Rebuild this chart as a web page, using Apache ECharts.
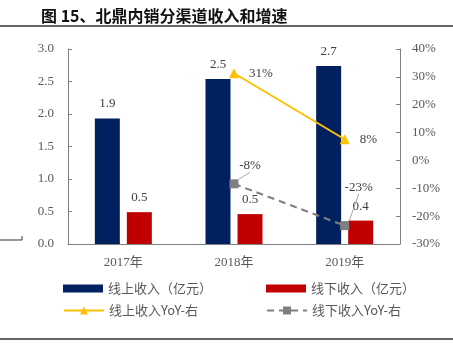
<!DOCTYPE html>
<html>
<head>
<meta charset="utf-8">
<script src="https://cdn.jsdelivr.net/npm/echarts@6/dist/echarts.min.js"></script>
<style>
html, body { margin: 0; padding: 0; background: #fff; }
#main { width: 453px; height: 350px; }
</style>
</head>
<body>
<div id="main"></div>
<script>
var years = ['2017年', '2018年', '2019年']
var onlineRev = [1.93, 2.54, 2.74]
var offlineRev = [0.49, 0.46, 0.36]
var onlineYoy = [null, 31.3, 7.6]
var offlineYoy = [null, -8.4, -23.4]
var leftTicks = [0, 3, 0.5]
var rightTicks = [-30, 40, 10]

var serif = '"Liberation Serif", "Noto Sans CJK SC", serif'
var cjk = '"Noto Sans CJK SC", "Liberation Serif", sans-serif'
var grey = '#595959'

var myChart = echarts.init(document.getElementById('main'))

var option = {
	animation: false,
	title: {
		text: '图 15、北鼎内销分渠道收入和增速',
		left: 36,
		top: 3,
		textStyle: { fontFamily: cjk, fontSize: 16, fontWeight: 'bold', color: '#111' }
	},
	graphic: [
		{ type: 'line', shape: { x1: 0, y1: 26, x2: 453, y2: 26 }, style: { stroke: '#333', lineWidth: 1.5 } },
		{ type: 'line', shape: { x1: 0, y1: 339, x2: 453, y2: 339 }, style: { stroke: '#333', lineWidth: 1.5 } },
		{ type: 'line', shape: { x1: 0, y1: 240, x2: 22, y2: 240 }, style: { stroke: '#333', lineWidth: 1 } },
		{ type: 'line', shape: { x1: 22, y1: 236, x2: 22, y2: 240 }, style: { stroke: '#333', lineWidth: 1 } }
	],
	grid: { left: 68, right: 53, top: 49, bottom: 106 },
	legend: [
		{
			data: [{ name: '线上收入（亿元）', icon: 'rect' }], left: 58, top: 277, itemWidth: 40, itemHeight: 8,
			textStyle: { fontFamily: cjk, fontSize: 13, color: grey }
		},
		{
			data: [{ name: '线下收入（亿元）', icon: 'rect' }], left: 261, top: 277, itemWidth: 40, itemHeight: 8,
			textStyle: { fontFamily: cjk, fontSize: 13, color: grey }
		},
		{
			data: ['线上收入YoY-右'], left: 58, top: 299, itemWidth: 40, itemHeight: 10,
			textStyle: { fontFamily: cjk, fontSize: 13, color: grey }
		},
		{
			data: ['线下收入YoY-右'], left: 261, top: 299, itemWidth: 40, itemHeight: 10,
			textStyle: { fontFamily: cjk, fontSize: 13, color: grey }
		}
	],
	xAxis: {
		type: 'category',
		data: years,
		axisLine: { lineStyle: { color: '#808080' } },
		axisTick: { inside: true, length: 4, lineStyle: { color: '#808080' } },
		axisLabel: { fontFamily: serif, fontSize: 13, color: grey, margin: 12 }
	},
	yAxis: [
		{
			type: 'value',
			min: leftTicks[0], max: leftTicks[1], interval: leftTicks[2],
			splitLine: { show: false },
			axisLine: { show: true, lineStyle: { color: '#808080' } },
			axisTick: { show: true, inside: true, length: 4, lineStyle: { color: '#808080' } },
			axisLabel: {
				fontFamily: serif, fontSize: 13, color: grey, margin: 14,
				formatter: function (v) { return v.toFixed(1) }
			}
		},
		{
			type: 'value',
			min: rightTicks[0], max: rightTicks[1], interval: rightTicks[2],
			splitLine: { show: false },
			axisLine: { show: true, lineStyle: { color: '#808080' } },
			axisTick: { show: true, inside: true, length: 4, lineStyle: { color: '#808080' } },
			axisLabel: {
				fontFamily: serif, fontSize: 13, color: grey, margin: 12,
				formatter: '{value}%'
			}
		}
	],
	series: [
		{
			name: '线上收入（亿元）',
			type: 'bar',
			data: onlineRev,
			barWidth: 25,
			barGap: '28%',
			itemStyle: { color: '#002060' },
			label: {
				show: true, position: 'top', distance: 8,
				fontFamily: serif, fontSize: 13, color: '#404040',
				formatter: function (p) { return p.value.toFixed(1) }
			}
		},
		{
			name: '线下收入（亿元）',
			type: 'bar',
			data: offlineRev,
			barWidth: 25,
			barGap: '28%',
			itemStyle: { color: '#C00000' },
			label: {
				show: true, position: 'top', distance: 8,
				fontFamily: serif, fontSize: 13, color: '#404040',
				formatter: function (p) { return p.value.toFixed(1) }
			}
		},
		{
			name: '线上收入YoY-右',
			type: 'line',
			yAxisIndex: 1,
			data: onlineYoy,
			symbol: 'triangle',
			symbolSize: 10,
			lineStyle: { color: '#FFC000', width: 2 },
			itemStyle: { color: '#FFC000' },
			label: {
				show: true, position: 'right', distance: 10,
				fontFamily: serif, fontSize: 13, color: '#404040',
				formatter: function (p) { return Math.round(p.value) + '%' }
			}
		},
		{
			name: '线下收入YoY-右',
			type: 'line',
			yAxisIndex: 1,
			data: offlineYoy,
			symbol: 'rect',
			symbolSize: 9,
			lineStyle: { color: '#7F7F7F', width: 2, type: [7, 5] },
			itemStyle: { color: '#7F7F7F' },
			label: {
				show: true, position: 'top',
				fontFamily: serif, fontSize: 13, color: '#404040',
				formatter: function (p) { return Math.round(p.value) + '%' }
			},
			labelLayout: function (params) {
				if (params.dataIndex === 1) return { dx: 16, dy: -2 }
				if (params.dataIndex === 2) return { dx: 14, dy: -22 }
			},
			labelLine: { show: true, lineStyle: { color: '#A6A6A6', width: 1 } }
		}
	]
}
myChart.setOption(option)
</script>
</body>
</html>
